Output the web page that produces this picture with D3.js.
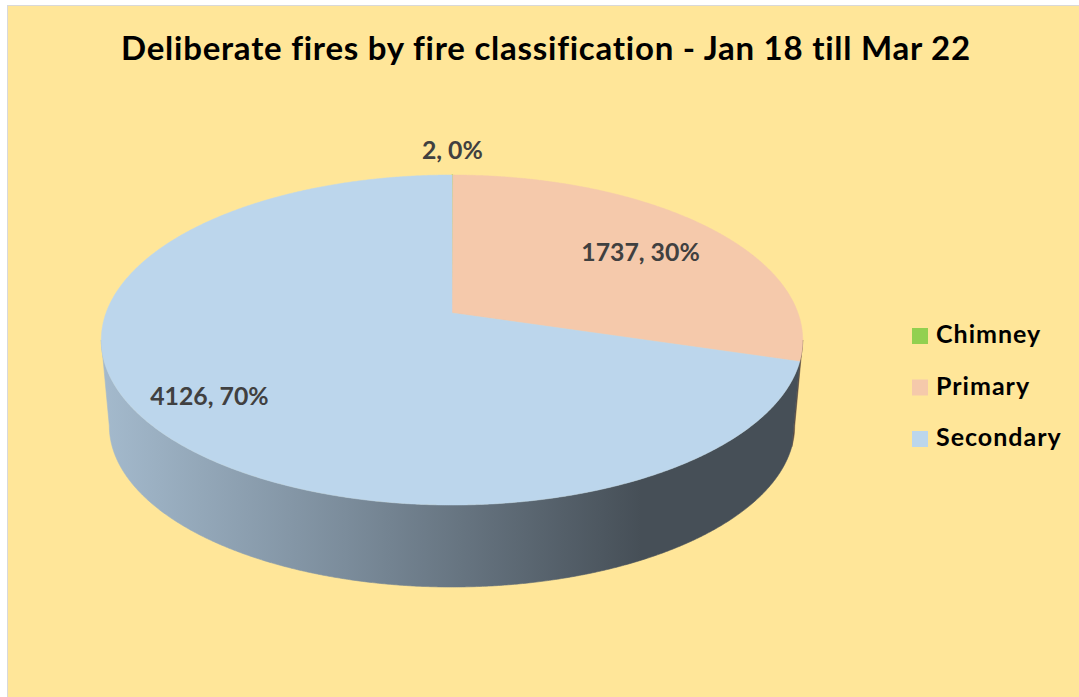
<!DOCTYPE html>
<html>
<head>
<meta charset="utf-8">
<script src="https://cdn.jsdelivr.net/npm/d3@7"></script>
<style>
  html, body { margin: 0; padding: 0; background: #fff; }
  svg { display: block; }
</style>
</head>
<body>
<svg id="chart" width="1079" height="697"></svg>
<script>
// ---- data ----
const categories = ["Chimney", "Primary", "Secondary"];
const values = [2, 1737, 4126];
const colors = ["#92D050", "#F5C9AB", "#BCD6EC"];
const chartTitle = "Deliberate fires by fire classification - Jan 18 till Mar 22";

// ---- layout ----
const W = 1079, H = 697;
const FONT = "Lato, 'Open Sans', sans-serif";
const svg = d3.select("#chart");

// chart area with thin grey frame
svg.append("rect")
  .attr("x", 7.5).attr("y", 5.5)
  .attr("width", W).attr("height", H)
  .attr("fill", "#FFE699")
  .attr("stroke", "#D9D9D9").attr("stroke-width", 1);

// title
svg.append("text")
  .attr("x", 546).attr("y", 60)
  .attr("text-anchor", "middle")
  .attr("font-family", FONT).attr("font-weight", 700)
  .attr("font-size", 33).attr("letter-spacing", 0.75)
  .attr("fill", "#000")
  .text(chartTitle);

// ---- pie geometry (tilted disc with perspective) ----
const rows = categories.map((c, i) => ({ name: c, value: values[i], color: colors[i] }));
const total = d3.sum(values);
const pie = d3.pie().sort(null).value(d => d.value);
const arcs = pie(rows);

const cx = 452, cy = 313;      // projected centre of the top face
const A = 346, B = 160.6;      // horizontal / vertical radii before perspective
const D = 6.11;                // perspective distance (in radius units)
const depth = 86.4;            // thickness of the disc on screen
const sb = 0.977;              // bottom face shrink (further from the eye)

function project(angle, r, bottom) {
  const u = r * Math.sin(angle);
  const v = -r * Math.cos(angle);
  const w = D / (D - v);
  const s = bottom ? sb : 1;
  return [cx + A * u * w * s, cy + (bottom ? depth : 0) + B * v * w * s];
}

function samples(a0, a1) {
  const n = Math.max(2, Math.ceil(Math.abs(a1 - a0) / 0.005));
  return d3.range(n + 1).map(i => a0 + (a1 - a0) * i / n);
}

// silhouette angles where the rim is widest on screen
const TAU = Math.PI * 2;
const fine = d3.range(0, TAU, 0.0005);
const silRight = fine.filter(a => a > Math.PI / 2 && a < Math.PI)
  .reduce((b, a) => project(a, 1)[0] > project(b, 1)[0] ? a : b, Math.PI / 2 + 0.001);
const silLeft = TAU - silRight;

const line = d3.line();
const defs = svg.append("defs");

// side wall gradients (lit from the left, dark to the right)
arcs.forEach((d, i) => {
  const c = d3.rgb(d.data.color);
  const shade = k => d3.rgb(c.r * k, c.g * k, c.b * k).formatHex();
  const g = defs.append("linearGradient")
    .attr("id", "side" + i)
    .attr("gradientUnits", "userSpaceOnUse")
    .attr("x1", cx - A * 1.014).attr("x2", cx + A * 1.014)
    .attr("y1", 0).attr("y2", 0);
  [[0, 0.87], [0.35, 0.655], [0.77, 0.37], [1, 0.37]].forEach(([o, k]) =>
    g.append("stop").attr("offset", o).attr("stop-color", shade(k)));
});

// side walls: visible front part of each slice
const sides = svg.append("g");
arcs.forEach((d, i) => {
  const a0 = Math.max(d.startAngle, silRight);
  const a1 = Math.min(d.endAngle, silLeft);
  if (a1 <= a0) return;
  const top = samples(a0, a1).map(a => project(a, 1, false));
  const bot = samples(a0, a1).reverse().map(a => project(a, 1, true));
  sides.append("path")
    .attr("d", line(top.concat(bot)) + "Z")
    .attr("fill", `url(#side${i})`)
    .attr("stroke", `url(#side${i})`).attr("stroke-width", 0.6);
});

// top face slices
const topFace = svg.append("g");
arcs.forEach(d => {
  const pts = [[cx, cy]].concat(samples(d.startAngle, d.endAngle).map(a => project(a, 1, false)));
  topFace.append("path")
    .attr("d", line(pts) + "Z")
    .attr("fill", d.data.color)
    .attr("stroke", d.data.color)
    .attr("stroke-width", d.endAngle - d.startAngle < 0.01 ? 1.2 : 0.5)
    .attr("stroke-linejoin", "round");
});

// data labels: "value, percent"
const pct = d3.format(".0%");
const labelRadius = [1.21, 0.673, 0.805];
const labelDx = [0, 13, 0];
const labelPos = (d, i) => {
  const p = project((d.startAngle + d.endAngle) / 2, labelRadius[i]);
  return [p[0] + labelDx[i], p[1] + 8.5];
};
svg.append("g").selectAll("text")
  .data(arcs)
  .join("text")
  .attr("x", (d, i) => labelPos(d, i)[0])
  .attr("y", (d, i) => labelPos(d, i)[1])
  .attr("text-anchor", "middle")
  .attr("font-family", FONT).attr("font-weight", 700)
  .attr("font-size", 24.8).attr("fill", "#404040")
  .text(d => `${d.data.value}, ${pct(d.data.value / total)}`);

// legend
const ly = d3.scalePoint().domain(categories).range([343, 446]);
const legend = svg.append("g").selectAll("g")
  .data(rows)
  .join("g")
  .attr("transform", d => `translate(912,${ly(d.name)})`);
legend.append("rect")
  .attr("x", 0).attr("y", -15)
  .attr("width", 16).attr("height", 16)
  .attr("fill", d => d.color);
legend.append("text")
  .attr("x", 24).attr("y", 0)
  .attr("font-family", FONT).attr("font-weight", 700)
  .attr("font-size", 25).attr("letter-spacing", 1)
  .attr("fill", "#000")
  .text(d => d.name);
</script>
</body>
</html>
